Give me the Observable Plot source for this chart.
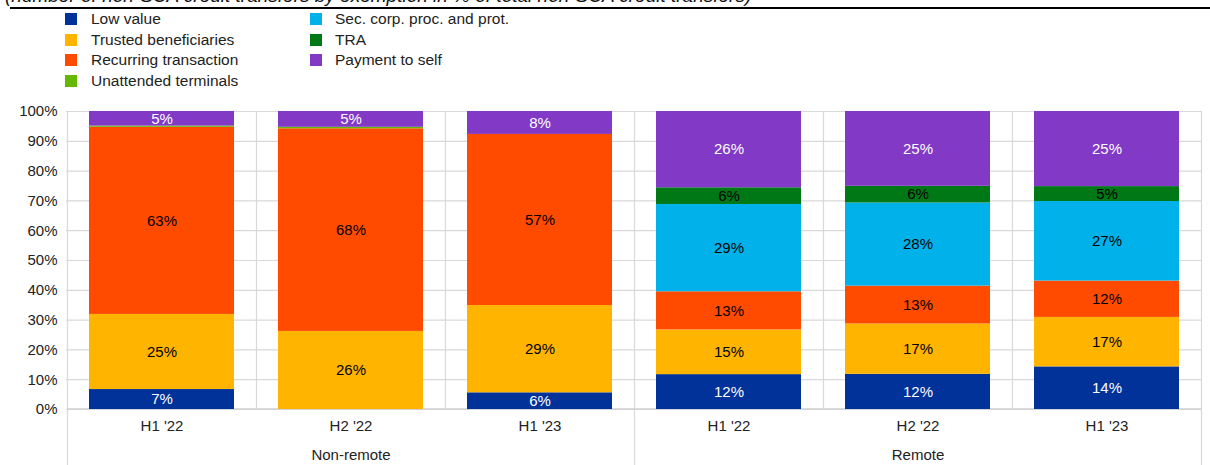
<!DOCTYPE html>
<html>
<head>
<meta charset="utf-8">
<script src="https://cdn.jsdelivr.net/npm/d3@7"></script>
<script src="https://cdn.jsdelivr.net/npm/@observablehq/plot@0.6"></script>
<style>
  html, body { margin: 0; padding: 0; background: #fff; }
  body { width: 1210px; height: 465px; overflow: hidden; font-family: "Liberation Sans", Arial, sans-serif; color: #222; }
  #header { position: relative; width: 1210px; height: 100px; overflow: hidden; }
  #title { position: absolute; left: 5px; top: -15px; font-size: 19px; font-style: italic; white-space: nowrap; color: #111; }
  #rule { position: absolute; left: 10px; right: 0; top: 7px; height: 2px; background: #000; }
  .item { position: absolute; height: 20px; display: flex; align-items: center; font-size: 15.5px; white-space: nowrap; }
  .sw { width: 12px; height: 12px; margin-right: 14px; flex: none; }
</style>
</head>
<body>
<div id="header">
  <div id="title">(number of non-SCA credit transfers by exemption in % of total non-SCA credit transfers)</div>
  <div id="rule"></div>
</div>
<div id="chart"></div>
<script>
// ---- data ----
const groups = ["Non-remote", "Remote"];
const periods = ["H1 '22", "H2 '22", "H1 '23"];
const series = ["Low value", "Trusted beneficiaries", "Recurring transaction", "Unattended terminals",
                "Sec. corp. proc. and prot.", "TRA", "Payment to self"];
const seriesColors = ["#003299", "#FFB400", "#FF4B00", "#65B800", "#00B1EA", "#007816", "#8139C6"];
const darkLabelSeries = ["Low value", "Payment to self"];
// values per bar: Non-remote H1'22, H2'22, H1'23, Remote H1'22, H2'22, H1'23 (in %)
const lowValue       = [6.7, 0.0, 5.6, 11.7, 11.8, 14.3];
const trustedBenef   = [25.2, 26.2, 29.3, 15.0, 16.9, 16.6];
const recurringTrans = [62.8, 68.0, 57.4, 12.8, 12.7, 12.2];
const unattendedTerm = [0.4, 0.5, 0.0, 0.0, 0.0, 0.0];
const secCorpProc    = [0.0, 0.0, 0.0, 29.3, 27.9, 26.7];
const tra            = [0.0, 0.0, 0.0, 5.6, 5.6, 5.0];
const paymentToSelf  = [4.9, 5.3, 7.7, 25.6, 25.1, 25.2];
const yTicks = [0, 10, 20, 30, 40, 50, 60, 70, 80, 90, 100];

// ---- build table ----
const seriesValues = [lowValue, trustedBenef, recurringTrans, unattendedTerm, secCorpProc, tra, paymentToSelf];
const keys = [];
groups.forEach(g => periods.forEach(p => keys.push(g + "|" + p)));
const data = [];
keys.forEach((k, i) => {
  series.forEach((s, j) => {
    data.push({key: k, group: k.split("|")[0], period: k.split("|")[1], series: s, value: seriesValues[j][i]});
  });
});
const colorOf = Object.fromEntries(series.map((s, i) => [s, seriesColors[i]]));

// ---- legend ----
const header = document.getElementById("header");
series.forEach((s, i) => {
  const col = i < 4 ? 0 : 1;
  const row = i < 4 ? i : i - 4;
  const el = document.createElement("div");
  el.className = "item";
  el.style.left = (col === 0 ? 65 : 310) + "px";
  el.style.top = (9 + row * 20.5) + "px";
  const sw = document.createElement("span");
  sw.className = "sw";
  sw.style.background = seriesColors[i];
  if (col === 1) sw.style.marginRight = "13px";
  const tx = document.createElement("span");
  tx.textContent = s;
  el.appendChild(sw); el.appendChild(tx);
  header.appendChild(el);
});

// ---- band separators ----
function separators(index, scales, values, dims) {
  const x = scales.x, y = scales.y;
  const bw = x.bandwidth();
  const step = x(keys[1]) - x(keys[0]);
  const left = x(keys[0]) - (step - bw) / 2;
  const g = d3.create("svg:g");
  for (let i = 0; i <= keys.length; i++) {
    const px = Math.round(left + i * step) + 0.5;
    const major = i % periods.length === 0;
    g.append("line")
      .attr("x1", px).attr("x2", px)
      .attr("y1", y(100)).attr("y2", major ? dims.height : y(0))
      .attr("stroke", "#d9d9d9").attr("stroke-width", 1.2);
  }
  g.append("line")
    .attr("x1", left).attr("x2", left + keys.length * step)
    .attr("y1", y(0)).attr("y2", y(0))
    .attr("stroke", "#d0d0d0").attr("stroke-width", 1.5);
  return g.node();
}

const fmt = v => v >= 1 ? Math.round(v) + "%" : "";

const chart = Plot.plot({
  width: 1210,
  height: 365,
  marginTop: 11,
  marginBottom: 56,
  marginLeft: 66,
  marginRight: 8,
  style: {fontFamily: "'Liberation Sans', Arial, sans-serif", fontSize: "15px", color: "#222", background: "#fff", overflow: "visible"},
  x: {domain: keys, paddingInner: 0.234, paddingOuter: 0.117, axis: null, label: null},
  y: {domain: [0, 100], axis: null, label: null},
  marks: [
    Plot.gridY(yTicks, {stroke: "#d9d9d9", strokeOpacity: 1, strokeWidth: 1.2}),
    separators,
    Plot.barY(data, {x: "key", y: "value", z: "series", order: series, fill: d => colorOf[d.series]}),
    Plot.text(data, Plot.stackY({
      x: "key", y: "value", z: "series", order: series,
      text: d => fmt(d.value),
      fill: d => darkLabelSeries.includes(d.series) ? "white" : "black",
      fontSize: 15
    })),
    Plot.axisY(yTicks, {tickSize: 0, tickPadding: 9, tickFormat: d => d + "%", fontSize: 15, fill: "#222", label: null}),
    Plot.axisX({tickSize: 0, tickPadding: 11, tickFormat: k => k.split("|")[1], fontSize: 15, fill: "#222", label: null}),
    Plot.text(groups, {x: g => g + "|" + periods[1], frameAnchor: "bottom", lineAnchor: "middle", dy: 46, text: d => d, fontSize: 15, fill: "#222"})
  ]
});
document.getElementById("chart").appendChild(chart);
</script>
</body>
</html>
